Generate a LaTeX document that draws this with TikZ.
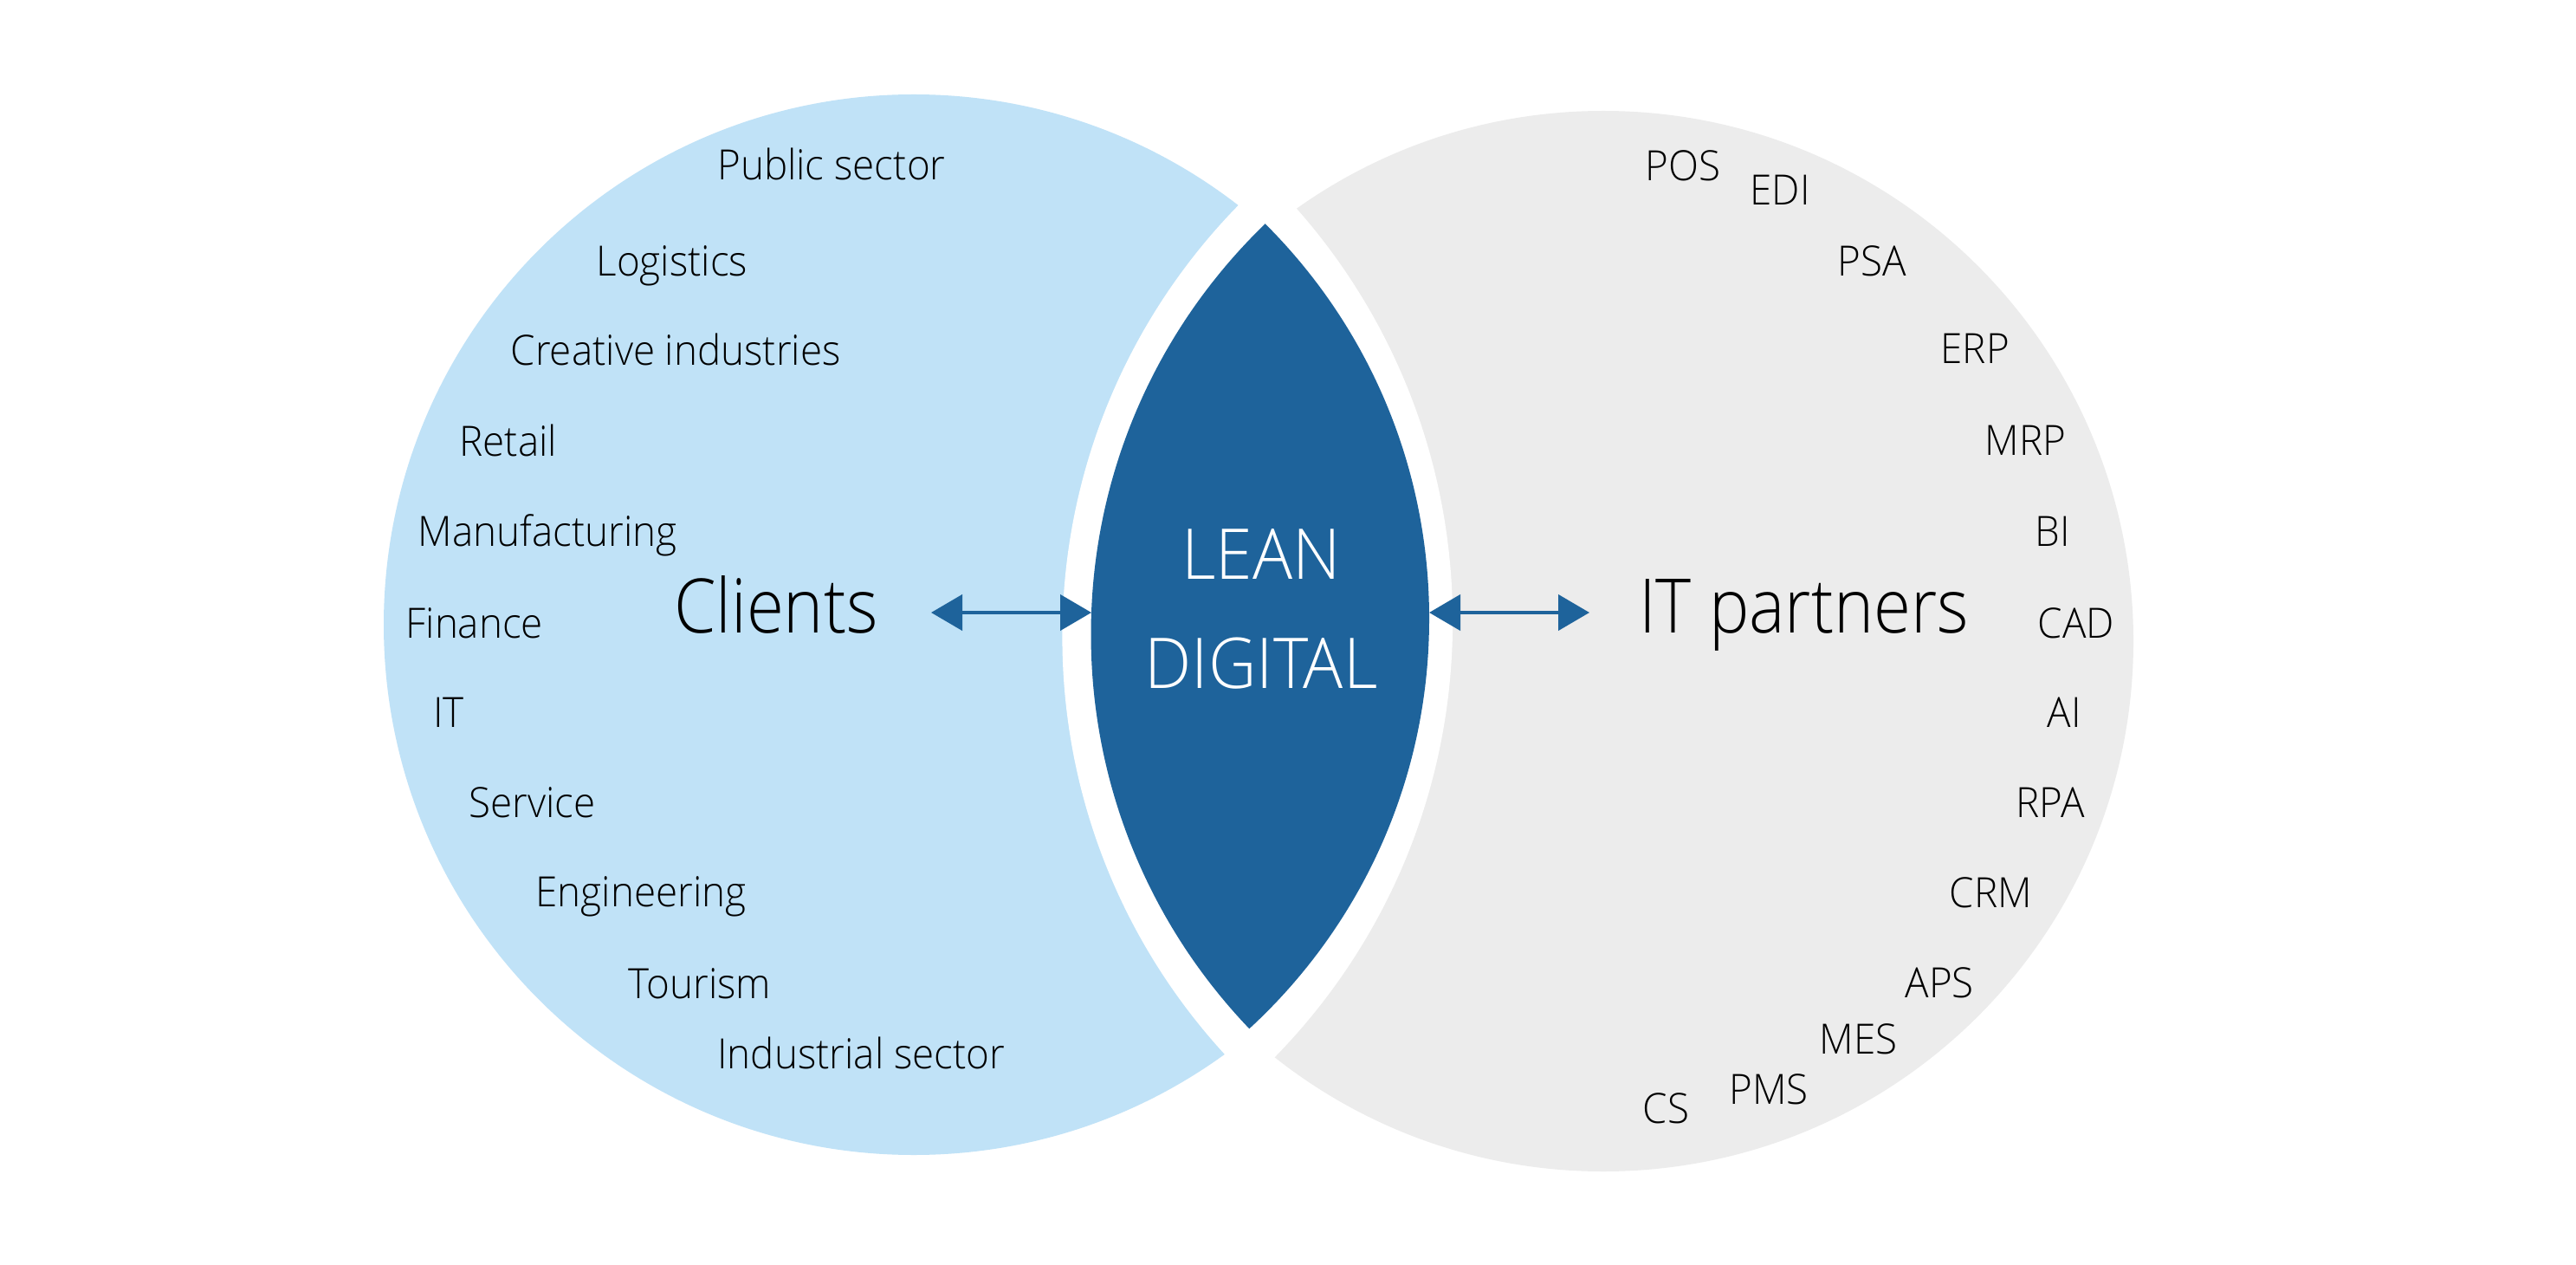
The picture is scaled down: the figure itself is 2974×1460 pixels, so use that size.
\documentclass[tikz,border=0pt]{standalone}
\usepackage{fontspec}
\setmainfont{Open Sans}[UprightFont=* Light, FakeStretch=0.95]
\newfontfamily\titlefont{Open Sans}[UprightFont=* Light, FakeStretch=0.9]
\usetikzlibrary{arrows.meta}
\definecolor{clientblue}{RGB}{192,226,247}
\definecolor{partnergrey}{RGB}{236,236,236}
\definecolor{leanblue}{RGB}{30,99,155}
\begin{document}
\begin{tikzpicture}[x=0.1mm,y=-0.1mm,
  lbl/.style={anchor=base west,inner sep=0pt,font=\fontsize{13.7}{16}\selectfont},
  big/.style={anchor=base west,inner sep=0pt,font=\titlefont\fontsize{24.7}{30}\selectfont},
  leantext/.style={anchor=base,inner sep=0pt,text=white,font=\fontsize{23}{35.6}\selectfont},
  biarrow/.style={{Triangle[length=3.6mm,width=4.1mm]}-{Triangle[length=3.6mm,width=4.1mm]},line width=0.43mm,draw=leanblue}]
\useasboundingbox (0,0) rectangle (2974,1460);
\fill[white] (0,0) rectangle (2974,1460);
% circles
\fill[clientblue] (1055,721) circle (612);
\fill[partnergrey] (1851,740) circle (612);
% white gap lens
\begin{scope}
  \clip (1938.6,735.2) circle (712.2);
  \fill[white] (958.1,716.9) circle (719);
\end{scope}
% dark lens
\begin{scope}
  \clip (1917.8,732) circle (658.3);
  \fill[leanblue] (1007,714) circle (643);
\end{scope}
% centre text
\node[leantext] (lean) at (1456,669) {\begin{tabular}[t]{@{}c@{}}LEAN\\DIGITAL\end{tabular}};
% main labels
\node[big] (clients) at (777.5,730) {Clients};
\node[big] (partners) at (1891.5,730) {IT partners};
% client sectors
\node[lbl] (c1) at (827.6,208) {Public sector};
\node[lbl] (c2) at (688,319) {Logistics};
\node[lbl] (c3) at (589,422) {Creative industries};
\node[lbl] (c4) at (530,527) {Retail};
\node[lbl] (c5) at (482,631) {Manufacturing};
\node[lbl] (c6) at (468,736) {Finance};
\node[lbl] (c7) at (499.5,839) {IT};
\node[lbl] (c8) at (541,943) {Service};
\node[lbl] (c9) at (618,1046) {Engineering};
\node[lbl] (c10) at (725,1152) {Tourism};
\node[lbl] (c11) at (827.6,1233) {Industrial sector};
% IT systems
\node[lbl] (p1) at (1899,209) {POS};
\node[lbl] (p2) at (2020,237) {EDI};
\node[lbl] (p3) at (2121,319) {PSA};
\node[lbl] (p4) at (2240,420) {ERP};
\node[lbl] (p5) at (2291,526) {MRP};
\node[lbl] (p6) at (2349,631) {BI};
\node[lbl] (p7) at (2352,736) {CAD};
\node[lbl] (p8) at (2363,839) {AI};
\node[lbl] (p9) at (2327,943) {RPA};
\node[lbl] (p10) at (2250,1047) {CRM};
\node[lbl] (p11) at (2199,1151) {APS};
\node[lbl] (p12) at (2100,1216) {MES};
\node[lbl] (p13) at (1996,1274) {PMS};
\node[lbl] (p14) at (1896,1296) {CS};
% arrows
\coordinate (clientsEnd) at (1075,707);
\coordinate (lensW) at (1260,707);
\coordinate (lensE) at (1650,707);
\coordinate (partnersEnd) at (1835,707);
\draw[biarrow] (clientsEnd) -- (lensW);
\draw[biarrow] (lensE) -- (partnersEnd);
\end{tikzpicture}
\end{document}
